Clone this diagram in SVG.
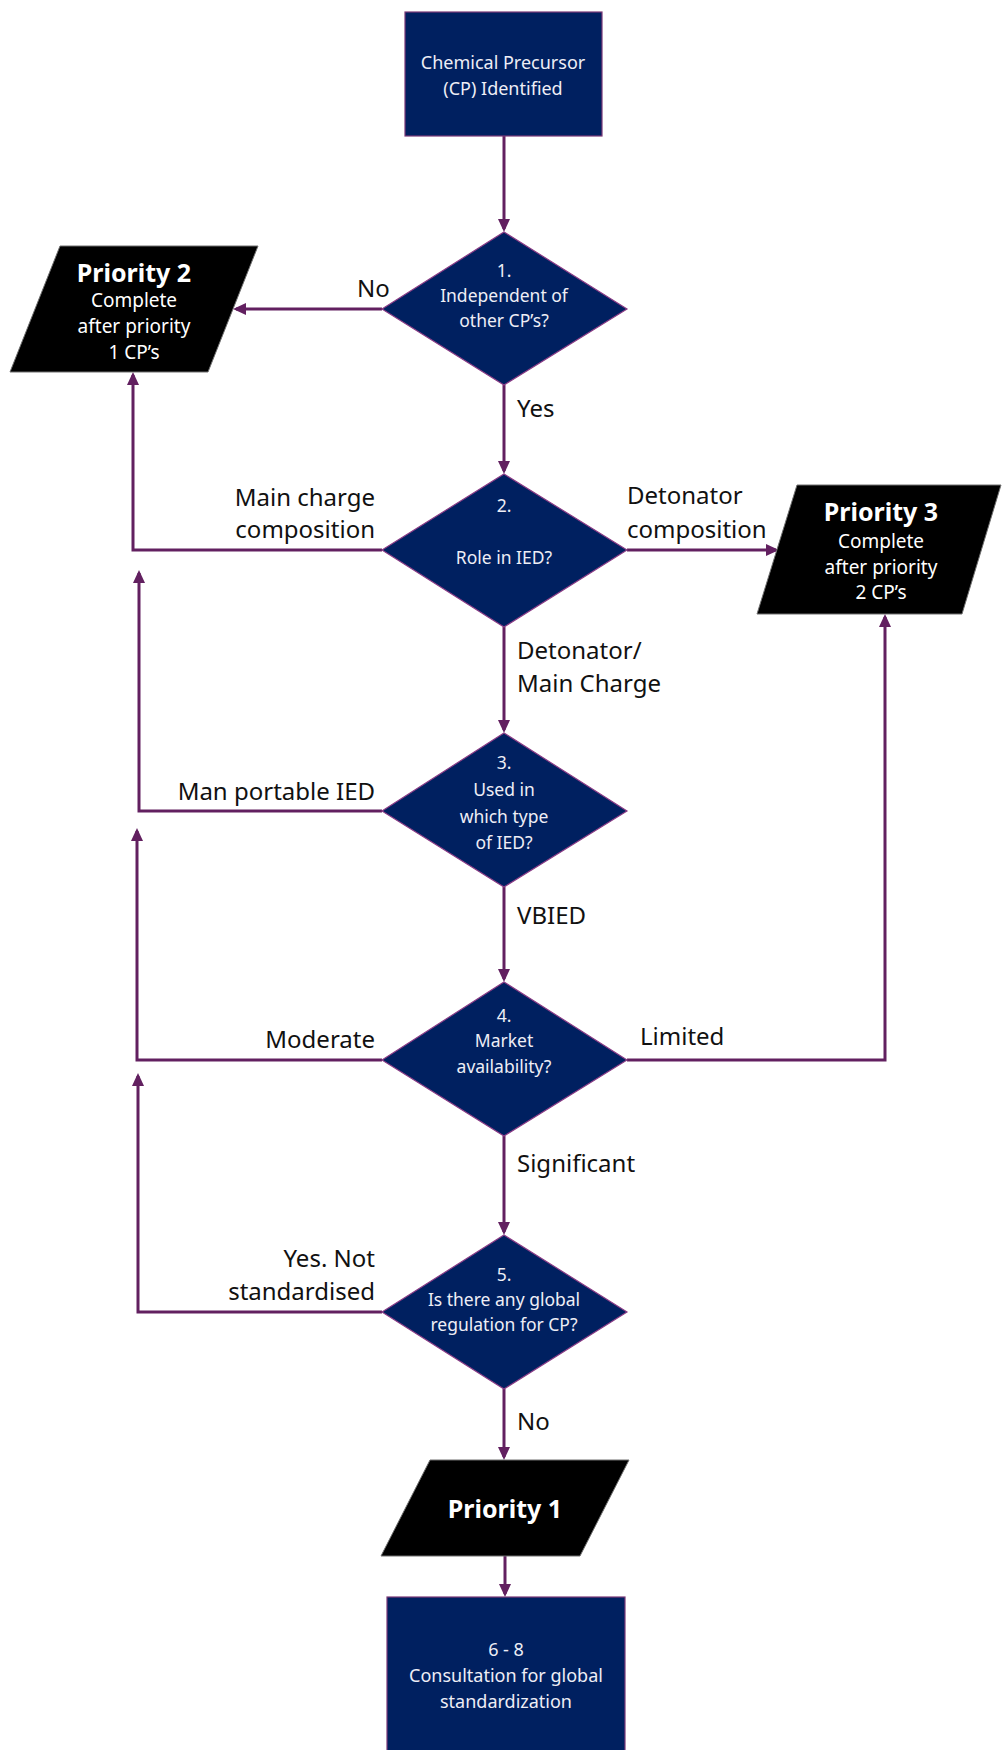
<svg xmlns="http://www.w3.org/2000/svg" width="1002" height="1750" viewBox="0 0 1002 1750">
<style>
.box{fill:#002060;stroke:#7b3a78;stroke-width:1.2}
.dia{fill:#002060;stroke:#8a3c86;stroke-width:1.2}
.par{fill:#000;stroke:#6f6f6f;stroke-width:1}
.w{font-family:"Noto Sans","Open Sans",sans-serif;font-size:18px;fill:#eeeef6;text-anchor:middle;dominant-baseline:central}
.d{font-size:17.5px}
.pw{font-family:"Noto Sans","Open Sans",sans-serif;font-size:19px;fill:#ffffff;text-anchor:middle;dominant-baseline:central}
.pb{font-family:"Noto Sans","Open Sans",sans-serif;font-size:25px;font-weight:bold;fill:#ffffff;text-anchor:middle;dominant-baseline:central}
.lbl{font-family:"Noto Sans","Open Sans",sans-serif;font-size:24px;fill:#111;dominant-baseline:central}
.r{text-anchor:end}
.con{fill:none;stroke:#622060;stroke-width:3;marker-end:url(#ah)}
</style>
<defs>
<marker id="ah" markerUnits="userSpaceOnUse" markerWidth="13" markerHeight="12" refX="10" refY="6" orient="auto">
<path d="M0,0 L13,6 L0,12 z" fill="#622060"/>
</marker>
</defs>
<rect width="1002" height="1750" fill="#fff"/>
<g id="connectors">
<path class="con" d="M504,136 V229"/>
<path class="con" d="M382,309 H236"/>
<path class="con" d="M504,385 V471"/>
<path class="con" d="M382,550 H133 V375"/>
<path class="con" d="M627,550 H776"/>
<path class="con" d="M504,627 V730"/>
<path class="con" d="M382,811 H139 V573"/>
<path class="con" d="M504,887 V979"/>
<path class="con" d="M382,1060 H137 V831"/>
<path class="con" d="M627,1060 H885 V617"/>
<path class="con" d="M504,1136 V1232"/>
<path class="con" d="M382,1312 H138 V1076"/>
<path class="con" d="M504,1389 V1457"/>
<path class="con" d="M505,1556 V1594"/>
</g>
<g id="labels">
<text class="lbl" x="357" y="287">No</text>
<text class="lbl" x="517" y="407">Yes</text>
<text class="lbl r" x="375" y="496">Main charge</text>
<text class="lbl r" x="375" y="528">composition</text>
<text class="lbl" x="627" y="494">Detonator</text>
<text class="lbl" x="627" y="528">composition</text>
<text class="lbl" x="517" y="649">Detonator/</text>
<text class="lbl" x="517" y="682">Main Charge</text>
<text class="lbl r" x="375" y="790">Man portable IED</text>
<text class="lbl" x="517" y="914">VBIED</text>
<text class="lbl r" x="375" y="1038">Moderate</text>
<text class="lbl" x="640" y="1035">Limited</text>
<text class="lbl" x="517" y="1162">Significant</text>
<text class="lbl r" x="375" y="1257">Yes. Not</text>
<text class="lbl r" x="375" y="1290">standardised</text>
<text class="lbl" x="517" y="1420">No</text>
</g>
<g id="start">
<rect class="box" x="405" y="12" width="197" height="124"/>
<text class="w" x="503" y="62">Chemical Precursor</text>
<text class="w" x="503" y="88">(CP) Identified</text>
</g>
<g id="q1">
<polygon class="dia" points="504,232 627,309 504,385 382,309"/>
<text class="w d" x="504" y="270">1.</text>
<text class="w d" x="504" y="295">Independent of</text>
<text class="w d" x="504" y="320">other CP’s?</text>
</g>
<g id="priority2">
<polygon class="par" points="60,246 258,246 208,372 10,372"/>
<text class="pb" x="134" y="272">Priority 2</text>
<text class="pw" x="134" y="300">Complete</text>
<text class="pw" x="134" y="326">after priority</text>
<text class="pw" x="134" y="352">1 CP’s</text>
</g>
<g id="q2">
<polygon class="dia" points="504,474 627,550 504,627 382,550"/>
<text class="w d" x="504" y="505">2.</text>
<text class="w d" x="504" y="557">Role in IED?</text>
</g>
<g id="priority3">
<polygon class="par" points="797,485 1001,485 962,614 757,614"/>
<text class="pb" x="881" y="511">Priority 3</text>
<text class="pw" x="881" y="541">Complete</text>
<text class="pw" x="881" y="567">after priority</text>
<text class="pw" x="881" y="592">2 CP’s</text>
</g>
<g id="q3">
<polygon class="dia" points="504,733 627,811 504,887 382,811"/>
<text class="w d" x="504" y="762">3.</text>
<text class="w d" x="504" y="789">Used in</text>
<text class="w d" x="504" y="816">which type</text>
<text class="w d" x="504" y="842">of IED?</text>
</g>
<g id="q4">
<polygon class="dia" points="504,982 627,1060 504,1136 382,1060"/>
<text class="w d" x="504" y="1015">4.</text>
<text class="w d" x="504" y="1040">Market</text>
<text class="w d" x="504" y="1066">availability?</text>
</g>
<g id="q5">
<polygon class="dia" points="504,1235 627,1312 504,1389 382,1312"/>
<text class="w d" x="504" y="1274">5.</text>
<text class="w d" x="504" y="1299">Is there any global</text>
<text class="w d" x="504" y="1324">regulation for CP?</text>
</g>
<g id="priority1">
<polygon class="par" points="430,1460 629,1460 580,1556 381,1556"/>
<text class="pb" x="505" y="1508">Priority 1</text>
</g>
<g id="consultation">
<rect class="box" x="387" y="1597" width="238" height="170"/>
<text class="w" x="506" y="1649">6 - 8</text>
<text class="w" x="506" y="1675">Consultation for global</text>
<text class="w" x="506" y="1701">standardization</text>
</g>
</svg>
